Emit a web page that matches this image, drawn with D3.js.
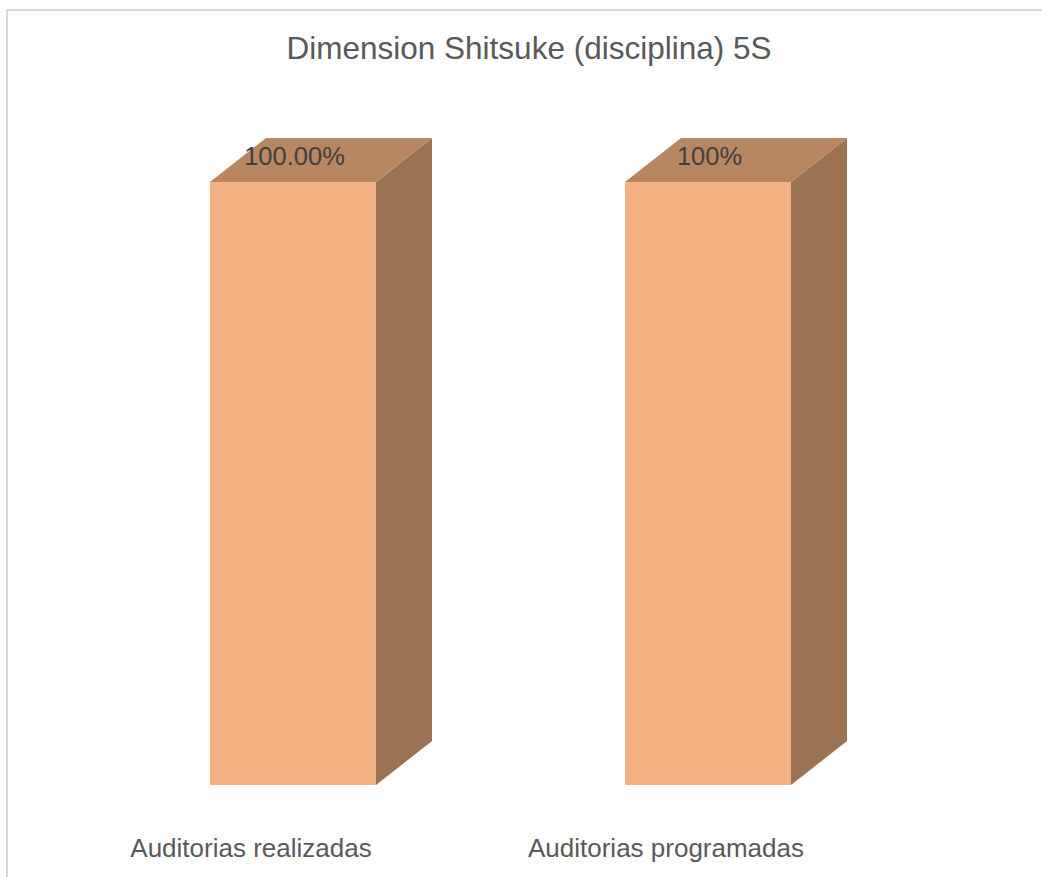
<!DOCTYPE html>
<html><head><meta charset="utf-8">
<script src="https://cdn.jsdelivr.net/npm/d3@7"></script>
<style>html,body{margin:0;padding:0;background:#fff;}svg{display:block;}</style>
</head><body>
<svg id="c" width="1042" height="877"></svg>
<script>
const categories = ["Auditorias realizadas", "Auditorias programadas"];
const values = [1.0, 1.0];
const valueLabels = ["100.00%", "100%"];
const title = "Dimension Shitsuke (disciplina) 5S";

const W = 1042, H = 877;
const svg = d3.select("#c");
const font = "'Liberation Sans', Arial, sans-serif";

// chart border
svg.append("rect").attr("x", 7).attr("y", 10).attr("width", 1200).attr("height", 1000)
  .attr("fill", "none").attr("stroke", "#d9d9d9").attr("stroke-width", 2);

svg.append("text").attr("x", 529).attr("y", 59).attr("text-anchor", "middle")
  .attr("font-family", font).attr("font-size", 31.5).attr("fill", "#595959").text(title);

const x = d3.scaleBand().domain(categories).range([85.5, 915.5]).paddingInner(0.6).paddingOuter(0.3);
const y = d3.scaleLinear().domain([0, 1]).range([785, 182]);
const dx = 56, dy = 44;

const g = svg.append("g");
categories.forEach((c, i) => {
  const x0 = x(c), x1 = x0 + x.bandwidth();
  const yt = y(values[i]), yb = y(0);
  // side
  g.append("path").attr("d", `M${x1},${yt}L${x1+dx},${yt-dy}L${x1+dx},${yb-dy}L${x1},${yb}Z`).attr("fill", "#9b7252");
  // top
  g.append("path").attr("d", `M${x0},${yt}L${x0+dx},${yt-dy}L${x1+dx},${yt-dy}L${x1},${yt}Z`).attr("fill", "#b98662");
  // front
  g.append("rect").attr("x", x0).attr("y", yt).attr("width", x.bandwidth()).attr("height", yb - yt).attr("fill", "#f4b183");
  // value label
  g.append("text").attr("x", x0 + x.bandwidth() / 2 + 1.5).attr("y", yt - 17)
    .attr("text-anchor", "middle").attr("font-family", font).attr("font-size", 25.5)
    .attr("fill", "#404040").text(valueLabels[i]);
  // category label
  g.append("text").attr("x", x0 + x.bandwidth() / 2 - 42).attr("y", 857)
    .attr("text-anchor", "middle").attr("font-family", font).attr("font-size", 26)
    .attr("fill", "#595959").text(c);
});
</script>
</body></html>
